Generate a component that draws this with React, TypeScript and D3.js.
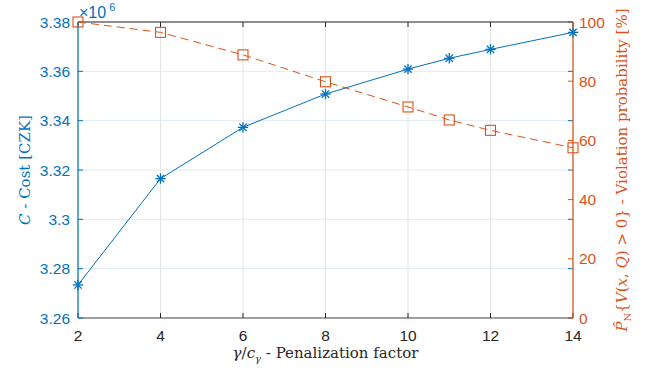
import React from 'react';
import * as d3 from 'd3';

// penalization factor gamma / c_gamma
const factors = [2, 4, 6, 8, 10, 11, 12, 14];
// cost in millions of CZK
const cost = [3.2734, 3.3165, 3.3373, 3.3508, 3.3609, 3.3653, 3.3689, 3.3758];
// violation probability [%]
const violation = [100, 96.5, 88.9, 79.8, 71.3, 66.9, 63.4, 57.5];

const xTicks = [2, 4, 6, 8, 10, 12, 14];
const leftTicks = [3.26, 3.28, 3.3, 3.32, 3.34, 3.36, 3.38];
const rightTicks = [0, 20, 40, 60, 80, 100];

const BLUE = '#0072BD';
const ORANGE = '#D95319';
const SANS = '"Liberation Sans", Arial, Helvetica, sans-serif';
const SERIF = '"DejaVu Serif", "Liberation Serif", serif';

const W = 657;
const H = 371;
const margin = { top: 22, right: 84, bottom: 53, left: 78 };

export default function App() {
  const iw = W - margin.left - margin.right;
  const ih = H - margin.top - margin.bottom;

  const x = d3.scaleLinear().domain([2, 14]).range([0, iw]);
  const yL = d3.scaleLinear().domain([3.26, 3.38]).range([ih, 0]);
  const yR = d3.scaleLinear().domain([0, 100]).range([ih, 0]);

  const costLine = d3.line<number>().x((_, i) => x(factors[i])).y(d => yL(d))(cost) || '';
  const violLine = d3.line<number>().x((_, i) => x(factors[i])).y(d => yR(d))(violation) || '';

  const star = (cx: number, cy: number, key: number) => {
    const r = 5.2;
    const d = 0.7071 * r;
    return (
      <g key={key} stroke={BLUE} strokeWidth={1.3}>
        <line x1={cx - r} y1={cy} x2={cx + r} y2={cy} />
        <line x1={cx} y1={cy - r} x2={cx} y2={cy + r} />
        <line x1={cx - d} y1={cy - d} x2={cx + d} y2={cy + d} />
        <line x1={cx - d} y1={cy + d} x2={cx + d} y2={cy - d} />
      </g>
    );
  };

  const tl = 5;

  return (
    <div style={{ position: 'fixed', left: 0, top: 0, background: '#fff' }}>
      <svg width={W} height={H} style={{ display: 'block' }}>
        <rect width={W} height={H} fill="#fff" />
        <g transform={`translate(${margin.left},${margin.top})`}>
          {/* grid */}
          {xTicks.map(t => (
            <line key={'gx' + t} x1={x(t)} x2={x(t)} y1={0} y2={ih} stroke="#e3e3e3" strokeWidth={1} />
          ))}
          {leftTicks.map(t => (
            <line key={'gy' + t} x1={0} x2={iw} y1={yL(t)} y2={yL(t)} stroke="#e1ebf5" strokeWidth={1} />
          ))}

          {/* top and bottom axes */}
          <line x1={0} x2={iw} y1={0} y2={0} stroke="#262626" strokeWidth={1} />
          <line x1={0} x2={iw} y1={ih} y2={ih} stroke="#4d4d4d" strokeWidth={1} />
          {xTicks.map(t => (
            <g key={'xt' + t}>
              <line x1={x(t)} x2={x(t)} y1={ih} y2={ih - tl} stroke="#262626" />
              <line x1={x(t)} x2={x(t)} y1={0} y2={tl} stroke="#262626" />
              <text x={x(t)} y={ih + 23} textAnchor="middle" fontFamily={SANS} fontSize={15.5} fill="#262626">
                {t}
              </text>
            </g>
          ))}

          {/* left axis */}
          <line x1={0} x2={0} y1={0} y2={ih} stroke={BLUE} strokeWidth={1.2} />
          {leftTicks.map(t => (
            <g key={'lt' + t}>
              <line x1={0} x2={tl} y1={yL(t)} y2={yL(t)} stroke={BLUE} />
              <line x1={iw} x2={iw - tl} y1={yL(t)} y2={yL(t)} stroke={BLUE} />
              <text x={-8} y={yL(t) + 5.5} textAnchor="end" fontFamily={SANS} fontSize={15.5} fill={BLUE}>
                {String(+t.toFixed(2))}
              </text>
            </g>
          ))}
          <text x={1} y={-4} fontFamily={SANS} fill={BLUE}>
            <tspan fontSize={16}>×10</tspan>
            <tspan dy={-7} dx={3} fontSize={11}>6</tspan>
          </text>

          {/* right axis */}
          <line x1={iw} x2={iw} y1={0} y2={ih} stroke={ORANGE} strokeWidth={1.2} />
          {rightTicks.map(t => (
            <g key={'rt' + t}>
              <line x1={iw} x2={iw - tl} y1={yR(t)} y2={yR(t)} stroke={ORANGE} />
              <text x={iw + 6} y={yR(t) + 5.5} textAnchor="start" fontFamily={SANS} fontSize={15.5} fill={ORANGE}>
                {t}
              </text>
            </g>
          ))}

          {/* series */}
          <path d={violLine} fill="none" stroke={ORANGE} strokeWidth={1} strokeDasharray="8 5" />
          {violation.map((v, i) => (
            <rect key={'sq' + i} x={x(factors[i]) - 5} y={yR(v) - 5} width={10} height={10}
              fill="none" stroke={ORANGE} strokeWidth={1.1} />
          ))}
          <path d={costLine} fill="none" stroke={BLUE} strokeWidth={1} />
          {cost.map((c, i) => star(x(factors[i]), yL(c), i))}
        </g>

        {/* axis labels */}
        <text x={margin.left + iw / 2} y={358} textAnchor="middle" fontFamily={SERIF} fontSize={15} fill="#262626">
          <tspan fontStyle="italic">γ</tspan>/<tspan fontStyle="italic">c</tspan>
          <tspan fontStyle="italic" fontSize={10} dy={4}>γ</tspan>
          <tspan dy={-4}> - Penalization factor</tspan>
        </text>
        <text transform={`translate(30,${margin.top + ih / 2}) rotate(-90)`} textAnchor="middle"
          fontFamily={SERIF} fontSize={15} fill={BLUE}>
          <tspan fontStyle="italic">C</tspan> - Cost [CZK]
        </text>
        <text transform={`translate(627,${margin.top + ih / 2}) rotate(-90)`} textAnchor="middle"
          fontFamily={SERIF} fontSize={15} fill={ORANGE}>
          <tspan fontStyle="italic">P̂</tspan>
          <tspan fontSize={10} dy={4}>N</tspan>
          <tspan dy={-4}>{'{'}</tspan>
          <tspan fontStyle="italic">V</tspan>(<tspan fontStyle="italic">x</tspan>, <tspan fontStyle="italic">Q</tspan>) {'>'} 0{'}'} - Violation probability [%]
        </text>
      </svg>
    </div>
  );
}
